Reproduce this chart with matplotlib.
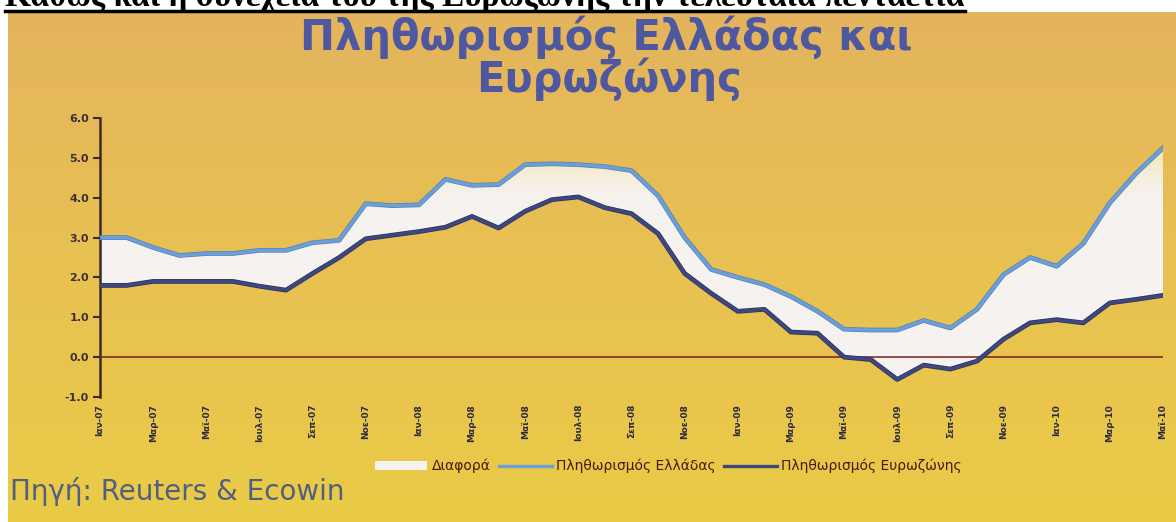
import numpy as np
import matplotlib
matplotlib.use('Agg')
import matplotlib.pyplot as plt
from matplotlib.colors import LinearSegmentedColormap
from matplotlib.lines import Line2D
from matplotlib.patches import Patch
import matplotlib.patheffects as pe

# μηνιαίος πληθωρισμός (%), Ιαν-07 έως Μαϊ-10
months = ['Ιαν-07', 'Μαρ-07', 'Μαϊ-07', 'Ιουλ-07', 'Σεπ-07', 'Νοε-07',
          'Ιαν-08', 'Μαρ-08', 'Μαϊ-08', 'Ιουλ-08', 'Σεπ-08', 'Νοε-08',
          'Ιαν-09', 'Μαρ-09', 'Μαϊ-09', 'Ιουλ-09', 'Σεπ-09', 'Νοε-09',
          'Ιαν-10', 'Μαρ-10', 'Μαϊ-10']
greece = [3.0, 3.0, 2.75, 2.55, 2.6, 2.6, 2.68, 2.68, 2.87, 2.93, 3.85, 3.8,
          3.82, 4.46, 4.31, 4.33, 4.83, 4.85, 4.83, 4.78, 4.68, 4.05, 3.0, 2.2,
          2.0, 1.82, 1.52, 1.15, 0.7, 0.68, 0.68, 0.92, 0.73, 1.2, 2.07, 2.5,
          2.28, 2.85, 3.87, 4.62, 5.25]
eurozone = [1.8, 1.8, 1.9, 1.9, 1.9, 1.9, 1.78, 1.68, 2.1, 2.5, 2.97, 3.06,
            3.15, 3.26, 3.53, 3.24, 3.66, 3.95, 4.02, 3.75, 3.6, 3.1, 2.1, 1.6,
            1.15, 1.2, 0.63, 0.6, 0.0, -0.06, -0.56, -0.2, -0.3, -0.1, 0.45, 0.86,
            0.94, 0.86, 1.36, 1.45, 1.55]
yticks = [-1.0, 0.0, 1.0, 2.0, 3.0, 4.0, 5.0, 6.0]

W, H = 1176, 522
fig = plt.figure(figsize=(W / 100, H / 100), dpi=100, facecolor='white')

# κίτρινο-πορτοκαλί φόντο της σελίδας
bg = fig.add_axes([8 / W, 0, 1 - 8 / W, 510 / H], zorder=-5)
bg_cmap = LinearSegmentedColormap.from_list('bg', ['#eacb46', '#e8c152', '#e4b45d'])
bg.imshow(np.linspace(0, 1, 256).reshape(-1, 1), cmap=bg_cmap, origin='lower',
          aspect='auto', extent=[0, 1, 0, 1])
bg.set_axis_off()

# κομμένη γραμμή κειμένου πάνω από το γράφημα
fig.text(5 / W, 1 - 6 / H, 'Καθώς και η συνέχεια του της Ευρωζώνης την τελευταία πενταετία',
         family='Liberation Serif', weight='bold', fontsize=24, va='baseline', ha='left')
fig.add_artist(Line2D([5 / W, 965 / W], [1 - 11 / H, 1 - 11 / H], color='black', lw=2.5,
                      transform=fig.transFigure))

title_color = '#4d58a0'
fig.text(606 / W, 1 - 37 / H, 'Πληθωρισμός Ελλάδας και', ha='center', va='center',
         fontsize=30, weight='bold', color=title_color)
fig.text(609 / W, 1 - 79 / H, 'Ευρωζώνης', ha='center', va='center',
         fontsize=30, weight='bold', color=title_color)

ax = fig.add_axes([100 / W, 1 - 397 / H, 1063 / W, 279 / H])
ax.patch.set_alpha(0)
x = np.arange(len(greece))

fill = ax.fill_between(x, eurozone, greece, facecolor='#f6f2ef', edgecolor='none', zorder=1)
# κιτρινωπή απόχρωση στο πάνω μέρος της διαφοράς
fade = LinearSegmentedColormap.from_list('fade', [(0.96, 0.95, 0.93, 0.0), (0.95, 0.88, 0.55, 0.9)])
im = ax.imshow(np.linspace(0, 1, 256).reshape(-1, 1), cmap=fade, origin='lower', aspect='auto',
               extent=[0, len(greece) - 1, 3.8, 5.4], zorder=2)
im.set_clip_path(fill.get_paths()[0], transform=ax.transData)

ax.axhline(0, color='#7a1f1f', lw=1.1, zorder=3)
ax.plot(x, greece, color='#6a9fd8', lw=2.4, zorder=5, solid_joinstyle='round',
        path_effects=[pe.Stroke(linewidth=3.4, foreground='#5a7fb5'), pe.Normal()])
ax.plot(x, eurozone, color='#3d4780', lw=2.4, zorder=4, solid_joinstyle='round',
        path_effects=[pe.Stroke(linewidth=3.4, foreground='#2c2f58'), pe.Normal()])

ax.set_xlim(0, len(greece) - 1)
ax.set_ylim(-1, 6)
ax.set_yticks(yticks)
ax.set_yticklabels([f'{v:.1f}' for v in yticks], fontsize=8, weight='bold', color='#3a3035')
ax.set_xticks(np.arange(0, len(greece), 2))
ax.set_xticklabels(months, rotation=90, fontsize=6.5, weight='bold', color='#2a2a40')
ax.tick_params(axis='x', length=0, pad=5)
ax.tick_params(axis='y', length=5, width=1.5, color='#3a2a2a', pad=3)
for side in ['top', 'right', 'bottom']:
    ax.spines[side].set_visible(False)
ax.spines['left'].set_color('#3a2a2a')
ax.spines['left'].set_linewidth(1.8)

handles = [Patch(facecolor='#f6f2ef', edgecolor='none'),
           Line2D([], [], color='#6a9fd8', lw=2.4),
           Line2D([], [], color='#3d4780', lw=2.4)]
labels = ['Διαφορά', 'Πληθωρισμός Ελλάδας', 'Πληθωρισμός Ευρωζώνης']
leg = fig.legend(handles, labels, loc='center', bbox_to_anchor=(668 / W, 1 - 466 / H), ncol=3,
                 frameon=False, fontsize=10, handlelength=3.8, handleheight=0.6,
                 handletextpad=0.3, columnspacing=0.6)
for t in leg.get_texts():
    t.set_color('#4a1818')

fig.text(10 / W, 1 - 492 / H, 'Πηγή: Reuters & Ecowin', ha='left', va='center',
         fontsize=20, color='#4f6082')

fig.savefig('out.png', dpi=100, facecolor='white')
